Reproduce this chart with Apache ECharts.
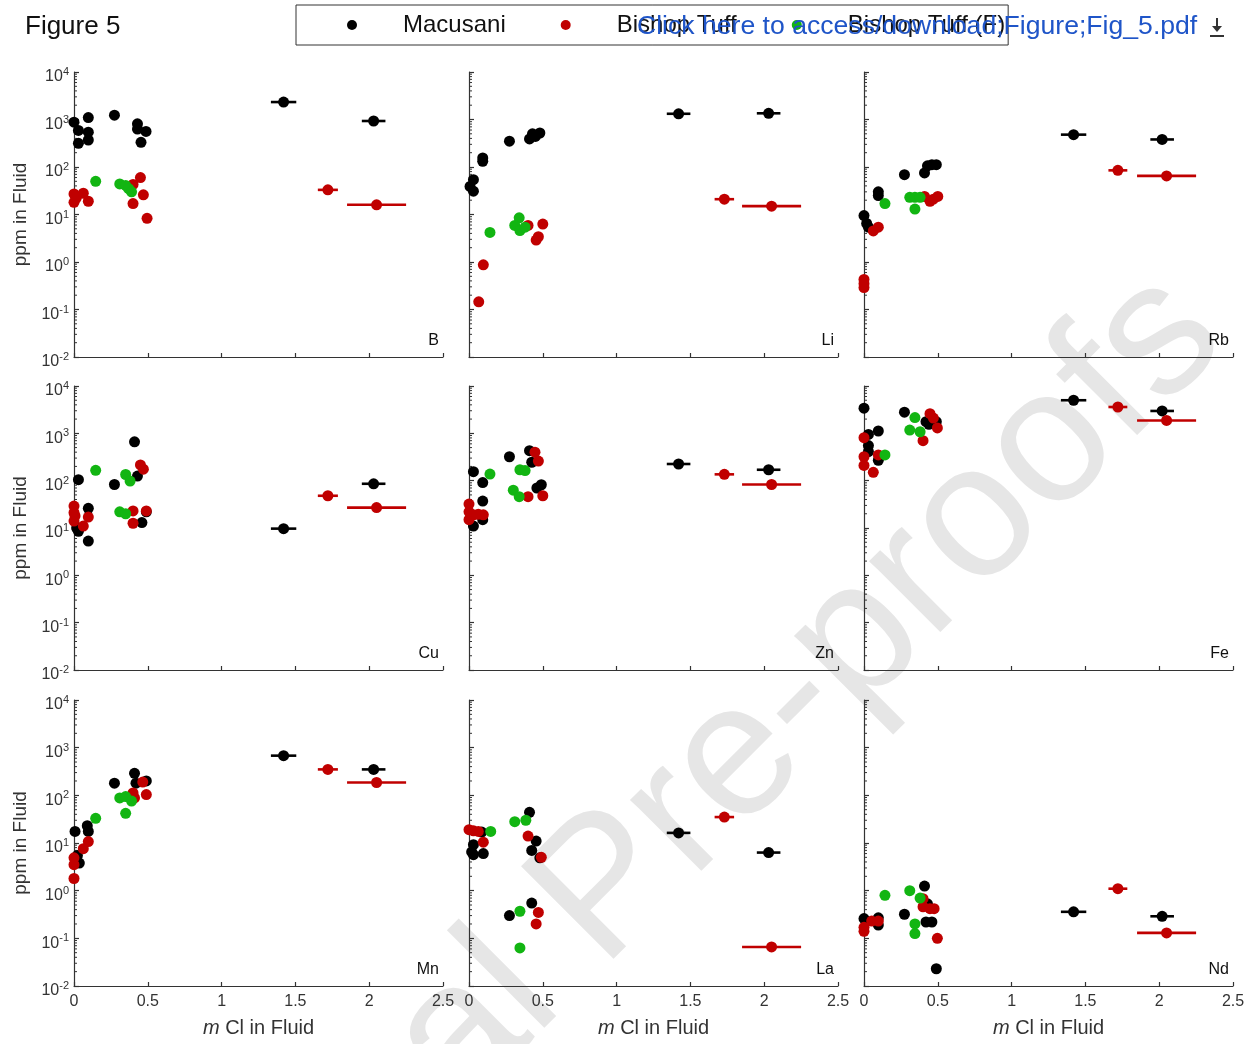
<!DOCTYPE html>
<html>
<head>
<meta charset="utf-8">
<script src="https://cdn.jsdelivr.net/npm/echarts@6/dist/echarts.min.js"></script>
<style>html,body{margin:0;padding:0;background:#fff;}#c{width:1258px;height:1044px;}</style>
</head>
<body>
<div id="c"></div>
<script>
// ---------------- data (x = m Cl in fluid, y = ppm in fluid) ----------------
const elements = ['B', 'Li', 'Rb', 'Cu', 'Zn', 'Fe', 'Mn', 'La', 'Nd'];
const seriesNames = ['Macusani', 'Bishop Tuff', 'Bishop Tuff (F)'];
const xTicks = [0, 0.5, 1, 1.5, 2, 2.5];
const minorTickValues = [0.02,0.03,0.04,0.05,0.06,0.07,0.08,0.09,0.2,0.3,0.4,0.5,0.6,0.7,0.8,0.9,2,3,4,5,6,7,8,9,20,30,40,50,60,70,80,90,200,300,400,500,600,700,800,900,2000,3000,4000,5000,6000,7000,8000,9000];

// [x, y] points; *Err arrays are [x, y, half-width of x error bar]
const B_mac = [[0,880],[0.03,590],[0.03,316],[0.097,1100],[0.097,540],[0.097,370],[0.274,1230],[0.43,810],[0.43,630],[0.454,330],[0.488,560]];
const B_macErr = [[1.42,2330,0.086],[2.03,930,0.08]];
const B_bt = [[0,27],[0,18],[0.015,22],[0.063,28],[0.097,19],[0.40,43],[0.40,17],[0.45,60],[0.47,26],[0.495,8.3]];
const B_btErr = [[1.72,33,0.068],[2.05,16,0.2]];
const B_btf = [[0.147,50],[0.31,44],[0.35,41],[0.37,35],[0.39,30]];

const Li_mac = [[0.007,39],[0.03,54],[0.03,31],[0.093,155],[0.093,132],[0.274,350],[0.41,390],[0.43,500],[0.45,440],[0.48,520]];
const Li_macErr = [[1.42,1320,0.08],[2.03,1350,0.08]];
const Li_bt = [[0.097,0.87],[0.066,0.145],[0.40,5.9],[0.50,6.3],[0.455,2.9],[0.47,3.4]];
const Li_btErr = [[1.73,21,0.066],[2.05,15,0.2]];
const Li_btf = [[0.142,4.2],[0.34,8.5],[0.31,5.9],[0.345,4.6],[0.38,5.4]];

const Rb_mac = [[0,9.5],[0.018,6.5],[0.03,5.4],[0.097,30],[0.097,25],[0.274,69],[0.41,75],[0.43,106],[0.46,112],[0.49,112]];
const Rb_macErr = [[1.42,480,0.086],[2.02,380,0.08]];
const Rb_bt = [[0,0.43],[0,0.29],[0,0.35],[0.063,4.5],[0.097,5.4],[0.41,24],[0.447,19],[0.47,21],[0.50,24]];
const Rb_btErr = [[1.72,85,0.064],[2.05,65,0.2]];
const Rb_btf = [[0.142,17],[0.31,23],[0.345,23],[0.38,23],[0.345,13]];

const Cu_mac = [[0.03,105],[0.018,10],[0.03,8.5],[0.097,26],[0.097,5.3],[0.274,83],[0.41,660],[0.43,125],[0.46,13],[0.49,22]];
const Cu_macErr = [[1.42,9.7,0.086],[2.03,86,0.08]];
const Cu_bt = [[0,29],[0,21],[0,14],[0.007,18],[0.063,11],[0.097,17],[0.40,12.6],[0.40,23],[0.45,215],[0.47,175],[0.49,23]];
const Cu_btErr = [[1.72,48,0.068],[2.05,27,0.2]];
const Cu_btf = [[0.147,165],[0.35,135],[0.38,98],[0.31,22],[0.35,20]];

const Zn_mac = [[0.03,155],[0.093,91],[0.093,37],[0.093,15],[0.03,11],[0.274,320],[0.41,430],[0.425,245],[0.46,70],[0.49,82]];
const Zn_macErr = [[1.42,225,0.08],[2.03,170,0.08]];
const Zn_bt = [[0,32],[0,22],[0,15],[0.03,19],[0.063,19.5],[0.097,19],[0.447,400],[0.47,260],[0.40,46],[0.50,48]];
const Zn_btErr = [[1.73,136,0.066],[2.05,83,0.2]];
const Zn_btf = [[0.142,138],[0.345,170],[0.38,163],[0.30,63],[0.34,46]];

const Fe_mac = [[0,3400],[0.03,950],[0.097,1120],[0.03,550],[0.03,410],[0.097,270],[0.274,2800],[0.42,1760],[0.44,1550],[0.49,1760]];
const Fe_macErr = [[1.42,5000,0.086],[2.02,2970,0.08]];
const Fe_bt = [[0,810],[0,320],[0,210],[0.063,150],[0.097,350],[0.447,2600],[0.47,2100],[0.497,1300],[0.40,700]];
const Fe_btErr = [[1.72,3600,0.064],[2.05,1870,0.2]];
const Fe_btf = [[0.142,350],[0.345,2150],[0.31,1170],[0.38,1080]];

const Mn_mac = [[0.007,17.5],[0.023,5.5],[0.036,3.8],[0.09,23],[0.097,17.5],[0.274,180],[0.41,290],[0.42,180],[0.49,200]];
const Mn_macErr = [[1.42,680,0.086],[2.03,350,0.08]];
const Mn_bt = [[0,4.9],[0,3.5],[0,1.8],[0.063,7.6],[0.097,10.7],[0.40,112],[0.41,88],[0.466,190],[0.49,104]];
const Mn_btErr = [[1.72,350,0.068],[2.05,186,0.2]];
const Mn_btf = [[0.147,33],[0.31,88],[0.35,94],[0.39,76],[0.35,42]];

const La_mac = [[0.03,9.2],[0.03,5.7],[0.018,6.5],[0.097,6.0],[0.086,17],[0.41,44],[0.455,11],[0.425,7],[0.48,4.9],[0.425,0.55],[0.274,0.30]];
const La_macErr = [[1.42,16.3,0.08],[2.03,6.3,0.08]];
const La_bt = [[0,19],[0.03,18],[0.063,17.5],[0.097,10.4],[0.40,14],[0.49,5.0],[0.47,0.35],[0.455,0.20]];
const La_btErr = [[1.73,35,0.066],[2.05,0.066,0.2]];
const La_btf = [[0.147,17.5],[0.31,28],[0.385,30],[0.345,0.37],[0.345,0.063]];

const Nd_mac = [[0,0.26],[0.097,0.27],[0.097,0.19],[0.274,0.32],[0.41,1.25],[0.43,0.53],[0.42,0.22],[0.46,0.22],[0.49,0.023]];
const Nd_macErr = [[1.42,0.36,0.086],[2.02,0.29,0.08]];
const Nd_bt = [[0,0.17],[0,0.14],[0.052,0.23],[0.097,0.23],[0.40,0.68],[0.40,0.46],[0.447,0.42],[0.475,0.42],[0.497,0.10]];
const Nd_btErr = [[1.72,1.1,0.064],[2.05,0.13,0.2]];
const Nd_btf = [[0.142,0.80],[0.31,1.0],[0.38,0.70],[0.345,0.20],[0.345,0.126]];

const panelData = {
  B:  [B_mac, B_macErr, B_bt, B_btErr, B_btf],
  Li: [Li_mac, Li_macErr, Li_bt, Li_btErr, Li_btf],
  Rb: [Rb_mac, Rb_macErr, Rb_bt, Rb_btErr, Rb_btf],
  Cu: [Cu_mac, Cu_macErr, Cu_bt, Cu_btErr, Cu_btf],
  Zn: [Zn_mac, Zn_macErr, Zn_bt, Zn_btErr, Zn_btf],
  Fe: [Fe_mac, Fe_macErr, Fe_bt, Fe_btErr, Fe_btf],
  Mn: [Mn_mac, Mn_macErr, Mn_bt, Mn_btErr, Mn_btf],
  La: [La_mac, La_macErr, La_bt, La_btErr, La_btf],
  Nd: [Nd_mac, Nd_macErr, Nd_bt, Nd_btErr, Nd_btf]
};

// ---------------- layout / style ----------------
const FONT = 'Liberation Sans, Arial, Helvetica, sans-serif';
const colLeft = [74, 469, 864];
const plotW = 369;
const rowTop = [72, 386, 700];
const rowH = [285, 284, 286];
const COLORS = ['#000000', '#c00000', '#12b512'];
const AX = '#333333';

const chart = echarts.init(document.getElementById('c'), null, {renderer: 'canvas'});

const grids = [], xAxes = [], yAxes = [], series = [], graphics = [];

function errRender(color) {
  return function (params, api) {
    const x = api.value(0), y = api.value(1), e = api.value(2);
    const p1 = api.coord([x - e, y]);
    const p2 = api.coord([x + e, y]);
    return {type: 'line', shape: {x1: p1[0], y1: p1[1], x2: p2[0], y2: p2[1]},
            style: {stroke: color, lineWidth: 2.6}};
  };
}
function minorRender(params, api) {
  const p = api.coord([0, api.value(1)]);
  return {type: 'line', shape: {x1: p[0], y1: p[1], x2: p[0] + 3, y2: p[1]},
          style: {stroke: AX, lineWidth: 1}};
}

elements.forEach(function (el, i) {
  const r = Math.floor(i / 3), c = i % 3;
  grids.push({left: colLeft[c], top: rowTop[r], width: plotW, height: rowH[r], containLabel: false});
  xAxes.push({
    gridIndex: i, type: 'value', min: 0, max: 2.5, interval: 0.5,
    axisLine: {show: true, onZero: false, lineStyle: {color: AX, width: 1.2}},
    axisTick: {show: true, inside: true, length: 4, lineStyle: {color: AX, width: 1.2}},
    splitLine: {show: false},
    axisLabel: {show: r === 2, margin: 8, color: AX, fontSize: 16, fontFamily: FONT,
                formatter: function (v) { return xTicks.indexOf(v) >= 0 ? String(v) : ''; }},
    name: r === 2 ? '{i|m} Cl in Fluid' : '',
    nameLocation: 'middle', nameGap: 32,
    nameTextStyle: {color: AX, fontSize: 20, fontFamily: FONT,
                    rich: {i: {fontStyle: 'italic', fontSize: 20, fontFamily: FONT, color: AX}}}
  });
  yAxes.push({
    gridIndex: i, type: 'log', logBase: 10, min: 0.01, max: 10000, splitNumber: 6,
    axisLine: {show: true, onZero: false, lineStyle: {color: AX, width: 1.2}},
    axisTick: {show: true, inside: true, length: 5, lineStyle: {color: AX, width: 1.2}},
    splitLine: {show: false},
    minorTick: {show: false},
    axisLabel: {
      show: c === 0, margin: 5, color: AX, fontFamily: FONT,
      formatter: function (v) { const e = Math.round(Math.log10(v)); return '{b|10}{e|' + e + '}'; },
      rich: {
        b: {fontSize: 16, lineHeight: 15, verticalAlign: 'bottom', color: AX, fontFamily: FONT},
        e: {fontSize: 11, lineHeight: 26, verticalAlign: 'middle', color: AX, fontFamily: FONT}
      }
    },
    name: c === 0 ? 'ppm in Fluid' : '',
    nameLocation: 'middle', nameGap: 44, nameRotate: 90,
    nameTextStyle: {color: AX, fontSize: 19, fontFamily: FONT}
  });

  const d = panelData[el];
  // minor log ticks on y axis
  series.push({type: 'custom', name: 'minor', xAxisIndex: i, yAxisIndex: i, silent: true, z: 1,
               renderItem: minorRender, data: minorTickValues.map(function (v) { return [0, v]; }),
               encode: {x: 0, y: 1}});
  // error bars
  series.push({type: 'custom', name: 'Macusani err', xAxisIndex: i, yAxisIndex: i, silent: true, z: 2,
               renderItem: errRender(COLORS[0]), data: d[1], encode: {x: 0, y: 1}});
  series.push({type: 'custom', name: 'Bishop Tuff err', xAxisIndex: i, yAxisIndex: i, silent: true, z: 2,
               renderItem: errRender(COLORS[1]), data: d[3], encode: {x: 0, y: 1}});
  // points
  series.push({type: 'scatter', name: seriesNames[0], xAxisIndex: i, yAxisIndex: i, z: 3,
               symbol: 'circle', symbolSize: 11, itemStyle: {color: COLORS[0], opacity: 1},
               data: d[0].concat(d[1].map(function (p) { return [p[0], p[1]]; }))});
  series.push({type: 'scatter', name: seriesNames[1], xAxisIndex: i, yAxisIndex: i, z: 4,
               symbol: 'circle', symbolSize: 11, itemStyle: {color: COLORS[1], opacity: 1},
               data: d[2].concat(d[3].map(function (p) { return [p[0], p[1]]; }))});
  series.push({type: 'scatter', name: seriesNames[2], xAxisIndex: i, yAxisIndex: i, z: 5,
               symbol: 'circle', symbolSize: 11, itemStyle: {color: COLORS[2], opacity: 1},
               data: d[4]});

  // element label in lower-right corner
  graphics.push({type: 'text', x: colLeft[c] + plotW - 4, y: rowTop[r] + rowH[r] - 16, z: 10,
                 style: {text: el, fill: '#111', font: '16px ' + FONT, textAlign: 'right', textVerticalAlign: 'middle'}});
});

// header / decorations
graphics.push({type: 'text', x: 25, y: 27, z: 10,
               style: {text: 'Figure 5', fill: '#111', font: '26px ' + FONT, textAlign: 'left', textVerticalAlign: 'middle'}});
graphics.push({type: 'text', x: 637, y: 27, z: 20,
               style: {text: 'Click here to access/download;Figure;Fig_5.pdf', fill: '#1f55c8', font: '26.6px ' + FONT,
                       textAlign: 'left', textVerticalAlign: 'middle'}});
graphics.push({type: 'group', z: 20, children: [
  {type: 'line', shape: {x1: 1217, y1: 18, x2: 1217, y2: 28}, style: {stroke: '#333', lineWidth: 2}},
  {type: 'polygon', shape: {points: [[1212, 26], [1222, 26], [1217, 32]]}, style: {fill: '#333'}},
  {type: 'line', shape: {x1: 1210, y1: 36, x2: 1224, y2: 36}, style: {stroke: '#333', lineWidth: 2}}
]});
// watermark
graphics.push({type: 'text', x: 640, y: 858, rotation: Math.PI / 4, z: -10, silent: true,
               style: {text: 'Journal Pre-proofs', fill: '#e6e6e6', font: '190px ' + FONT,
                       textAlign: 'center', textVerticalAlign: 'middle'}});

const option = {
  animation: false,
  backgroundColor: '#ffffff',
  textStyle: {fontFamily: FONT},
  grid: grids,
  xAxis: xAxes,
  yAxis: yAxes,
  legend: {
    data: seriesNames, left: 296, top: 5,
    padding: [8, 3, 8, 51], itemGap: 55, itemWidth: 60, itemHeight: 10,
    borderColor: '#333', borderWidth: 1, backgroundColor: 'transparent',
    textStyle: {fontSize: 24, color: '#111', fontFamily: FONT, padding: [0, 0, 0, 16]},
    icon: 'circle', selectedMode: false
  },
  graphic: graphics,
  series: series
};
chart.setOption(option);
</script>
</body>
</html>
